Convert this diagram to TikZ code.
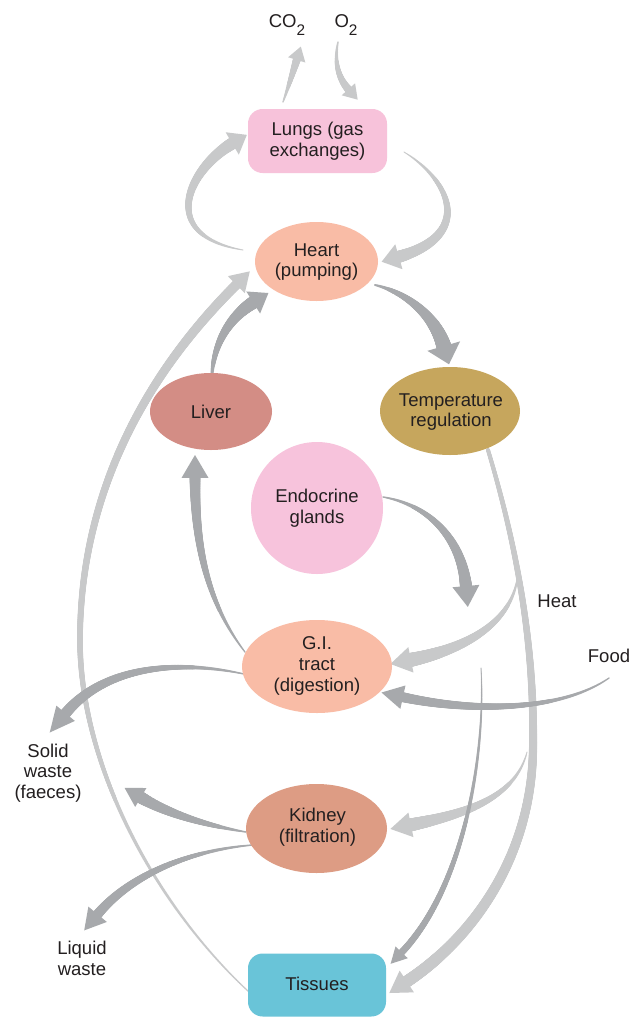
\documentclass[tikz,border=0pt]{standalone}
\usepackage{fontspec}
\setmainfont{Liberation Sans}
\usetikzlibrary{shapes.geometric,decorations.markings}
\definecolor{lg}{HTML}{C8C9CA}
\definecolor{dg}{HTML}{A7A9AC}
\definecolor{lungc}{HTML}{F7C2DA}
\definecolor{heartc}{HTML}{F9BCA6}
\definecolor{liverc}{HTML}{D38D85}
\definecolor{tempc}{HTML}{C6A65D}
\definecolor{endoc}{HTML}{F7C3DC}
\definecolor{kidc}{HTML}{DD9C84}
\definecolor{tisc}{HTML}{69C4D8}
\definecolor{txtc}{HTML}{231F20}
% tapered arrow: colour, start width, end width, head width, head length (px), path
\newcommand\tarr[6]{%
  \path[postaction={decorate, decoration={markings,
    mark=between positions 0 and 1 step 0.45pt with {%
      \pgfmathsetmacro\tr{0.375*(#2+(#3-#2)*(\pgfkeysvalueof{/pgf/decoration/mark info/distance from start})/(\pgfdecoratedpathlength))}%
      \fill[#1] (0pt,0pt) circle[radius=\tr pt];}}},
    postaction={decorate, decoration={markings,
    mark=at position -0.4pt with {\fill[#1] (-0.3pt,#4*0.375pt) -- (#5*0.75pt+0.4pt,0pt) -- (-0.3pt,-#4*0.375pt) -- cycle;}}}] #6;}
\begin{document}
\begin{tikzpicture}[x=0.75pt,y=-0.75pt,
  txt/.style={font=\fontsize{13.9}{15.6}\selectfont, text=txtc, align=center, inner sep=0pt},
  ell/.style={ellipse, draw=none, inner sep=0pt},
  rbox/.style={rectangle, draw=none, inner sep=0pt, rounded corners=11pt}]
\fill[white] (0,0) rectangle (641,1017);
\useasboundingbox (0,0) rectangle (641,1017);

% ---- light grey arrows ----
\tarr{lg}{1.5}{8}{18}{13}{(283,102) .. controls (288,88) and (293,72) .. (297,59)}
\tarr{lg}{1.5}{8}{18}{13}{(338,42) .. controls (334,62) and (338,78) .. (349,90)}
\tarr{lg}{1}{12}{26}{16}{(243,250) .. controls (155,235) and (190,168) .. (233,143)}
\tarr{lg}{1}{12}{26}{17}{(404,152) .. controls (450,180) and (475,235) .. (398,257)}
\tarr{lg}{1.5}{10}{24}{18}{(249,992) .. controls (150,900) and (80,760) .. (80,640) .. controls (80,500) and (140,380) .. (237,284)}
\tarr{lg}{4}{12}{26}{20}{(488,450) .. controls (515,540) and (535,640) .. (533,750) .. controls (531,860) and (470,940) .. (406,982)}
\tarr{lg}{1}{14}{26}{20}{(518,572) .. controls (515,620) and (470,648) .. (410,660)}
\tarr{lg}{1}{13}{25}{20}{(527,752) .. controls (515,800) and (460,815) .. (410,825)}

% ---- dark grey arrows ----
\tarr{dg}{2}{15}{34}{18}{(375,285) .. controls (405,292) and (435,315) .. (444,347)}
\tarr{dg}{3}{13}{26}{17}{(212,374) .. controls (214,345) and (228,318) .. (254,302)}
\tarr{dg}{1.5}{11}{27}{22}{(245,652) .. controls (205,600) and (195,540) .. (195,477)}
\tarr{dg}{1.5}{12}{27}{20}{(383,497) .. controls (430,505) and (462,540) .. (466,587)}
\tarr{dg}{1.5}{10}{24}{21}{(609,678) .. controls (560,712) and (470,712) .. (402,697)}
\tarr{dg}{1}{7}{17}{15}{(481,668) .. controls (486,760) and (462,890) .. (401,953)}
\tarr{dg}{1.5}{11}{24}{24}{(244,674) .. controls (180,660) and (105,665) .. (65,714)}
\tarr{dg}{1.5}{12}{22}{18}{(246,832) .. controls (210,826) and (170,815) .. (140,797)}
\tarr{dg}{1.5}{10}{24}{20}{(253,845) .. controls (190,850) and (130,875) .. (97,915)}

% ---- nodes ----
\node[rbox, fill=lungc, minimum width=104.25pt, minimum height=48pt] (lungs) at (317.5,141) {};
\node[txt] (lungsT) at (317.5,141) {Lungs (gas\\exchanges)};
\node[ell, fill=heartc, minimum width=92.25pt, minimum height=59.25pt] (heart) at (316.5,261.5) {};
\node[txt] (heartT) at (316.5,262) {Heart\\(pumping)};
\node[ell, fill=liverc, minimum width=91.5pt, minimum height=57.75pt] (liver) at (211,411.5) {};
\node[txt] (liverT) at (211,412) {Liver};
\node[ell, fill=tempc, minimum width=105pt, minimum height=66pt] (temp) at (450,411) {};
\node[txt] (tempT) at (451,412) {Temperature\\regulation};
\node[ell, fill=endoc, minimum width=99pt, minimum height=99pt] (endo) at (317,508) {};
\node[txt] (endoT) at (317,508.5) {Endocrine\\glands};
\node[ell, fill=heartc, minimum width=112.5pt, minimum height=69.75pt] (gi) at (317,666.5) {};
\node[txt] (giT) at (317,666) {G.I.\\tract\\(digestion)};
\node[ell, fill=kidc, minimum width=105.75pt, minimum height=66.75pt] (kidney) at (316.5,828.5) {};
\node[txt] (kidneyT) at (317.5,827.5) {Kidney\\(filtration)};
\node[rbox, fill=tisc, minimum width=103.5pt, minimum height=47.25pt] (tissues) at (317,985) {};
\node[txt] (tissuesT) at (317,984) {Tissues};

% ---- free labels ----
\node[txt, anchor=base] (co2) at (287,27) {CO\raisebox{-6pt}{\fontsize{11.5}{12}\selectfont 2}};
\node[txt, anchor=base] (o2) at (346,27) {O\raisebox{-6pt}{\fontsize{11.5}{12}\selectfont 2}};
\node[txt, anchor=base] (heat) at (557,607) {Heat};
\node[txt, anchor=base] (food) at (609,662) {Food};
\node[txt] (solid) at (48,773) {Solid\\waste\\(faeces)};
\node[txt] (liquid) at (82,958) {Liquid\\waste};
\end{tikzpicture}
\end{document}
